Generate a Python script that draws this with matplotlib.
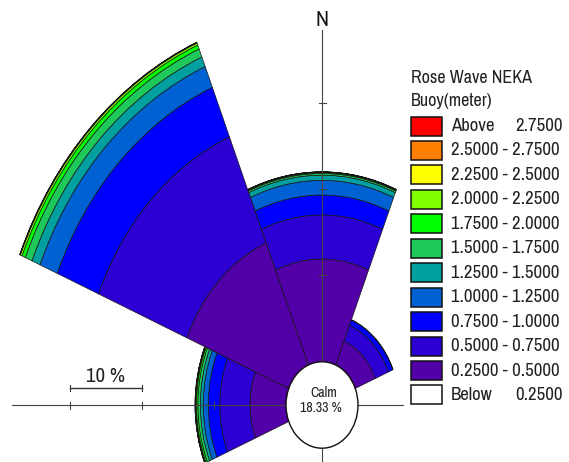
import matplotlib
matplotlib.use("Agg")
import matplotlib.pyplot as plt
from matplotlib.patches import Wedge, Ellipse, Rectangle
from matplotlib import font_manager

# ---------------- data ----------------
directions = ["N", "NE", "E", "SE", "S", "SW", "W", "NW"]
dir_angles = [0, 45, 90, 135, 180, 225, 270, 315]   # compass degrees
bin_labels = ["0.2500 - 0.5000", "0.5000 - 0.7500", "0.7500 - 1.0000",
              "1.0000 - 1.2500", "1.2500 - 1.5000", "1.5000 - 1.7500",
              "1.7500 - 2.0000", "2.0000 - 2.2500", "2.2500 - 2.5000",
              "2.5000 - 2.7500", "Above 2.7500"]
bin_colors = ["#5200a8", "#2c00d2", "#0000ff", "#0062d2", "#00a0a0",
              "#1ec85a", "#00ff00", "#80ff00", "#ffff00", "#ff8000", "#ff0000"]
# frequency (%) per bin, in direction order N, NE, E, SE, S, SW, W, NW
f_025_050 = [11.9, 3.0, 0, 0, 0, 0, 5.0, 15.3]
f_050_075 = [5.1, 2.0, 0, 0, 0, 0, 4.2, 13.3]
f_075_100 = [2.3, 0.65, 0, 0, 0, 0, 1.6, 6.2]
f_100_125 = [1.7, 0.05, 0, 0, 0, 0, 0.7, 2.6]
f_125_150 = [0.6, 0, 0, 0, 0, 0, 0.4, 1.2]
f_150_175 = [0.2, 0, 0, 0, 0, 0, 0.35, 1.0]
f_175_200 = [0.1, 0, 0, 0, 0, 0, 0.2, 0.5]
f_200_225 = [0.05, 0, 0, 0, 0, 0, 0.1, 0.25]
f_225_250 = [0.02, 0, 0, 0, 0, 0, 0.05, 0.05]
f_250_275 = [0.01, 0, 0, 0, 0, 0, 0.02, 0.03]
f_above_275 = [0.01, 0, 0, 0, 0, 0, 0.01, 0.02]
freqs = [f_025_050, f_050_075, f_075_100, f_100_125, f_125_150, f_150_175,
         f_175_200, f_200_225, f_225_250, f_250_275, f_above_275]
calm_pct = 18.33
scale_ticks = [10, 20, 30]

# ---------------- fonts ----------------
names = {f.name for f in font_manager.fontManager.ttflist}
narrow = [n for n in sorted(names) if "Narrow" in n or "Condensed" in n]
if narrow:
    FAM = [narrow[0], "DejaVu Sans"]
    leg_fs, title_fs, n_fs, calm_fs, bar_fs = 13.5, 13, 16, 10, 15
else:
    FAM = ["Liberation Sans", "DejaVu Sans"]
    leg_fs, title_fs, n_fs, calm_fs, bar_fs = 11.5, 11.5, 16, 8.5, 12.5
plt.rcParams["font.family"] = FAM

W, H = 569, 462
fig = plt.figure(figsize=(W / 100, H / 100), dpi=100)
fig.patch.set_facecolor("white")

# rose axes: 1 % = 7.2 px horizontally, 8.64 px vertically
cx, cy = 322, 405
sx, sy = 7.2, 8.64
ax = fig.add_axes([0, 0, 1, 1])
ax.set_xlim(-cx / sx, (W - cx) / sx)
ax.set_ylim(-(H - cy) / sy, cy / sy)
ax.set_aspect("auto")
ax.axis("off")

calm_r = 5.0   # radius of calm circle in % units
half = 22.5
for i, d in enumerate(dir_angles):
    r0 = calm_r
    th1 = 90 - d - half
    th2 = 90 - d + half
    for j, vals in enumerate(freqs):
        v = vals[i]
        if v <= 0:
            continue
        ax.add_patch(Wedge((0, 0), r0 + v, th1, th2, width=v,
                           facecolor=bin_colors[j], edgecolor="#151515",
                           linewidth=0.5, zorder=2))
        r0 += v
    if r0 > calm_r:
        ax.add_patch(Wedge((0, 0), calm_r, th1, th2, facecolor=bin_colors[0],
                           edgecolor="#151515", linewidth=0.5, zorder=2))

# axis lines
ax_col = "#444444"
ax.plot([0, 0], [-(H - cy) / sy, (cy - 30) / sy], color=ax_col, lw=0.8, zorder=3)
ax.plot([-(cx - 12) / sx, (403 - cx) / sx], [0, 0], color=ax_col, lw=0.8, zorder=3)
for t in scale_ticks:
    r = calm_r + t
    ax.plot([-3.5 / sx, 3.5 / sx], [r, r], color=ax_col, lw=0.8, zorder=3)
    ax.plot([-r, -r], [-3.5 / sy, 3.5 / sy], color=ax_col, lw=0.8, zorder=3)

# scale bar 10 %
yb = 17 / sy
x1, x2 = -(calm_r + scale_ticks[2]), -(calm_r + scale_ticks[1])
ax.plot([x1, x2], [yb, yb], color="#333333", lw=1.0, zorder=3)
for xx in (x1, x2):
    ax.plot([xx, xx], [yb - 3 / sy, yb + 3 / sy], color="#333333", lw=0.8, zorder=3)
ax.text((x1 + x2) / 2, yb + 12 / sy, "10 %", ha="center", va="center",
        fontsize=bar_fs, color="#222222", zorder=3)

# calm ellipse
ax.add_patch(Ellipse((0, 0), 2 * calm_r, 2 * calm_r, facecolor="white",
                     edgecolor="#111111", linewidth=1.0, zorder=4))
ax.text(0.2, 1.4, "Calm", ha="center", va="center", fontsize=calm_fs,
        color="#222222", zorder=5)
ax.text(-0.2, -0.3, f"{calm_pct:.2f} %", ha="center", va="center",
        fontsize=calm_fs, color="#222222", zorder=5)

# N label
ax.text(0, (cy - 20) / sy, "N", ha="center", va="center", fontsize=n_fs,
        color="#111111", zorder=5)

# ---------------- legend (pixel coordinates) ----------------
lax = fig.add_axes([0, 0, 1, 1], zorder=10)
lax.set_xlim(0, W)
lax.set_ylim(H, 0)
lax.axis("off")
lax.patch.set_alpha(0)

lx, tx, rx = 411, 451, 563
lax.text(lx, 78, "Rose Wave NEKA", ha="left", va="center", fontsize=title_fs, color="#222222")
lax.text(lx, 101, "Buoy(meter)", ha="left", va="center", fontsize=title_fs, color="#222222")
entries = [("Above", "2.7500", bin_colors[10])]
for j in range(9, -1, -1):
    entries.append((bin_labels[j], None, bin_colors[j]))
entries.append(("Below", "0.2500", "white"))
pitch = 24.45
for k, (lab, num, col) in enumerate(entries):
    yc = 126 + pitch * k
    lax.add_patch(Rectangle((lx, yc - 9.5), 31, 19, facecolor=col,
                            edgecolor="#111111", linewidth=1.1))
    lax.text(tx, yc, lab, ha="left", va="center", fontsize=leg_fs, color="#222222")
    if num is not None:
        lax.text(rx, yc, num, ha="right", va="center", fontsize=leg_fs, color="#222222")

fig.savefig("out.png", dpi=100, facecolor="white")
